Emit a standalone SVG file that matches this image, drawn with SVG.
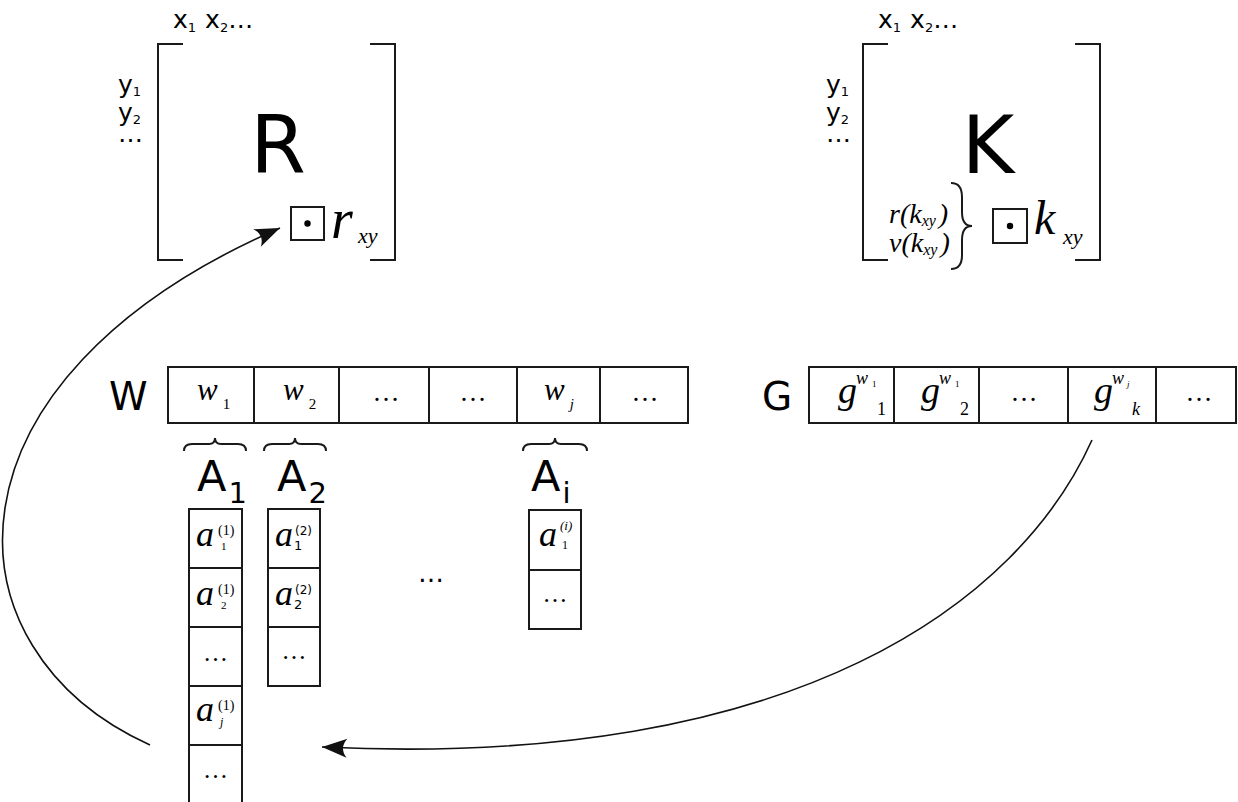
<svg xmlns="http://www.w3.org/2000/svg" width="1238" height="802" viewBox="0 0 1238 802">
  <style>
    .ln { fill: none; stroke: #1a1a1a; stroke-width: 2; }
    .cell { fill: #ffffff; stroke: #1a1a1a; stroke-width: 2; }
    .conn { fill: none; stroke: #111111; stroke-width: 1.6; }
    .sans { font-family: "DejaVu Sans", "Liberation Sans", sans-serif; fill: #000; }
    .ser { font-family: "Liberation Serif", "DejaVu Serif", serif; fill: #000; }
    .it { font-style: italic; }
    .mid { text-anchor: middle; }
  </style>
  <defs>
    <marker id="head" markerUnits="userSpaceOnUse" viewBox="-26 -10 28 20" refX="0" refY="0" markerWidth="28" markerHeight="20" orient="auto" overflow="visible">
      <path d="M0,0 L-25,-9.5 Q-17,0 -25,9.5 Z" fill="#111111"/>
    </marker>
  </defs>
  <rect width="1238" height="802" fill="#ffffff"/>

  <!-- matrix R -->
  <g id="matrix-R">
    <path class="ln" d="M183,44 H158 V260 H183"/>
    <path class="ln" d="M370,44 H395 V260 H370"/>
    <text class="sans" x="173" y="28" font-size="25">x<tspan font-size="13" dy="4">1</tspan><tspan dx="9" dy="-4">x</tspan><tspan font-size="13" dy="4">2</tspan><tspan dy="-4">…</tspan></text>
    <text class="sans" x="118" y="93" font-size="25">y<tspan font-size="13" dy="3">1</tspan></text>
    <text class="sans" x="118" y="121" font-size="25">y<tspan font-size="13" dy="3">2</tspan></text>
    <text class="sans" x="118" y="142" font-size="25">…</text>
    <text class="sans mid" x="278" y="173" font-size="80">R</text>
    <rect class="ln" x="291" y="207" width="33" height="33"/>
    <circle cx="307.5" cy="223.5" r="3.2" fill="#000"/>
    <text class="ser it" x="331" y="238" font-size="56">r</text>
    <text class="ser it" x="358" y="243" font-size="22">xy</text>
  </g>

  <!-- matrix K -->
  <g id="matrix-K">
    <path class="ln" d="M888,44 H863 V260 H888"/>
    <path class="ln" d="M1075,44 H1100 V260 H1075"/>
    <text class="sans" x="878" y="28" font-size="25">x<tspan font-size="13" dy="4">1</tspan><tspan dx="9" dy="-4">x</tspan><tspan font-size="13" dy="4">2</tspan><tspan dy="-4">…</tspan></text>
    <text class="sans" x="826" y="93" font-size="25">y<tspan font-size="13" dy="3">1</tspan></text>
    <text class="sans" x="826" y="121" font-size="25">y<tspan font-size="13" dy="3">2</tspan></text>
    <text class="sans" x="826" y="142" font-size="25">…</text>
    <text class="sans mid" x="988" y="173" font-size="80">K</text>
    <text class="ser it" x="889" y="223" font-size="28">r(k<tspan font-size="16" dy="3">xy</tspan><tspan dx="3" dy="-3">)</tspan></text>
    <text class="ser it" x="889" y="252" font-size="28">v(k<tspan font-size="16" dy="3">xy</tspan><tspan dx="3" dy="-3">)</tspan></text>
    <path class="ln" d="M951,183 Q962,183 962,197 L962,212 Q962,226 972,226 Q962,226 962,240 L962,255 Q962,269 951,269"/>
    <rect class="ln" x="993" y="209" width="34" height="34"/>
    <circle cx="1010" cy="226" r="3.2" fill="#000"/>
    <text class="ser it" x="1034" y="234" font-size="48">k</text>
    <text class="ser it" x="1063" y="244" font-size="22">xy</text>
  </g>

  <!-- array W -->
  <g id="array-W">
    <text class="sans" x="109" y="410" font-size="39">W</text>
    <rect class="cell" x="168" y="367" width="86" height="56"/>
    <rect class="cell" x="254" y="367" width="85" height="56"/>
    <rect class="cell" x="339" y="367" width="90" height="56"/>
    <rect class="cell" x="429" y="367" width="88" height="56"/>
    <rect class="cell" x="517" y="367" width="83" height="56"/>
    <rect class="cell" x="600" y="367" width="88" height="56"/>
    <text class="ser it" x="197" y="400" font-size="31">w<tspan font-style="normal" font-size="15" dx="5" dy="9">1</tspan></text>
    <text class="ser it" x="283" y="400" font-size="31">w<tspan font-style="normal" font-size="15" dx="5" dy="9">2</tspan></text>
    <text class="ser it" x="544" y="400" font-size="31">w<tspan font-size="15" dx="5" dy="9">j</tspan></text>
    <text class="ser mid" x="386" y="401" font-size="27">…</text>
    <text class="ser mid" x="473" y="401" font-size="27">…</text>
    <text class="ser mid" x="645" y="401" font-size="27">…</text>
  </g>

  <!-- array G -->
  <g id="array-G">
    <text class="sans" x="762" y="410" font-size="39">G</text>
    <rect class="cell" x="809" y="367" width="85" height="56"/>
    <rect class="cell" x="894" y="367" width="85" height="56"/>
    <rect class="cell" x="979" y="367" width="89" height="56"/>
    <rect class="cell" x="1068" y="367" width="88" height="56"/>
    <rect class="cell" x="1156" y="367" width="80" height="56"/>
    <text class="ser it" x="838" y="403" font-size="38">g</text>
    <text class="ser it" x="856" y="384" font-size="18">w</text>
    <text class="ser" x="872" y="387" font-size="9">1</text>
    <text class="ser" x="877" y="415" font-size="18">1</text>
    <text class="ser it" x="921" y="403" font-size="38">g</text>
    <text class="ser it" x="939" y="384" font-size="18">w</text>
    <text class="ser" x="955" y="387" font-size="9">1</text>
    <text class="ser" x="960" y="415" font-size="18">2</text>
    <text class="ser mid" x="1024" y="401" font-size="27">…</text>
    <text class="ser it" x="1094" y="403" font-size="38">g</text>
    <text class="ser it" x="1112" y="384" font-size="18">w</text>
    <text class="ser it" x="1127" y="387" font-size="9">j</text>
    <text class="ser it" x="1132" y="415" font-size="18">k</text>
    <text class="ser mid" x="1199" y="401" font-size="27">…</text>
  </g>

  <!-- braces over A1 .. Ai -->
  <g id="braces">
    <path class="ln" d="M184,451 Q184,444 192,444 L209,444 Q215,444 215,438 Q215,444 221,444 L238,444 Q246,444 246,451"/>
    <path class="ln" d="M264,451 Q264,444 272,444 L289,444 Q295,444 295,438 Q295,444 301,444 L318,444 Q326,444 326,451"/>
    <path class="ln" d="M523,451 Q523,444 531,444 L549,444 Q555,444 555,438 Q555,444 561,444 L579,444 Q587,444 587,451"/>
  </g>

  <g id="column-A1">
    <text class="sans" x="197" y="491" font-size="43">A<tspan font-size="29" dx="2" dy="12">1</tspan></text>
    <rect class="cell" x="189" y="509" width="53" height="59"/>
    <rect class="cell" x="189" y="568" width="53" height="59"/>
    <rect class="cell" x="189" y="627" width="53" height="59"/>
    <rect class="cell" x="189" y="686" width="53" height="59"/>
    <rect class="cell" x="189" y="745" width="53" height="62"/>
    <text class="ser it" x="196" y="546" font-size="36">a</text>
    <text class="ser" x="218" y="535" font-size="14">(1)</text>
    <text class="ser" x="221" y="550" font-size="11">1</text>
    <text class="ser it" x="196" y="605" font-size="36">a</text>
    <text class="ser" x="218" y="594" font-size="14">(1)</text>
    <text class="ser" x="221" y="609" font-size="11">2</text>
    <text class="ser mid" x="215.5" y="661" font-size="25">…</text>
    <text class="ser it" x="196" y="721" font-size="36">a</text>
    <text class="ser" x="218" y="710" font-size="14">(1)</text>
    <text class="ser it" x="220" y="726" font-size="12">j</text>
    <text class="ser mid" x="215.5" y="778" font-size="25">…</text>
  </g>

  <g id="column-A2">
    <text class="sans" x="277" y="491" font-size="43">A<tspan font-size="29" dx="2" dy="12">2</tspan></text>
    <rect class="cell" x="268" y="509" width="52" height="59"/>
    <rect class="cell" x="268" y="568" width="52" height="59"/>
    <rect class="cell" x="268" y="627" width="52" height="59"/>
    <text class="ser it" x="275" y="546" font-size="36">a</text>
    <text class="sans" x="295" y="535" font-size="12">(2)</text>
    <text class="sans" x="294" y="550" font-size="13">1</text>
    <text class="ser it" x="275" y="605" font-size="36">a</text>
    <text class="sans" x="295" y="594" font-size="12">(2)</text>
    <text class="sans" x="294" y="609" font-size="13">2</text>
    <text class="ser mid" x="294" y="659" font-size="25">…</text>
  </g>

  <text class="sans mid" x="431" y="582" font-size="26">…</text>

  <g id="column-Ai">
    <text class="sans" x="531" y="491" font-size="43">A<tspan font-size="29" dx="2" dy="12">i</tspan></text>
    <rect class="cell" x="529" y="510" width="52" height="60"/>
    <rect class="cell" x="529" y="570" width="52" height="59"/>
    <text class="ser it" x="539" y="546" font-size="36">a</text>
    <text class="ser it" x="560" y="530" font-size="13">(i)</text>
    <text class="ser" x="562" y="549" font-size="12">1</text>
    <text class="ser mid" x="555" y="602" font-size="25">…</text>
  </g>

  <!-- connectors -->
  <g id="connectors">
    <path class="conn" d="M150,745 C-60,650 -70,380 280,228" marker-end="url(#head)"/>
    <path class="conn" d="M1092,440 C1020,600 800,770 322,747" marker-end="url(#head)"/>
  </g>
</svg>
